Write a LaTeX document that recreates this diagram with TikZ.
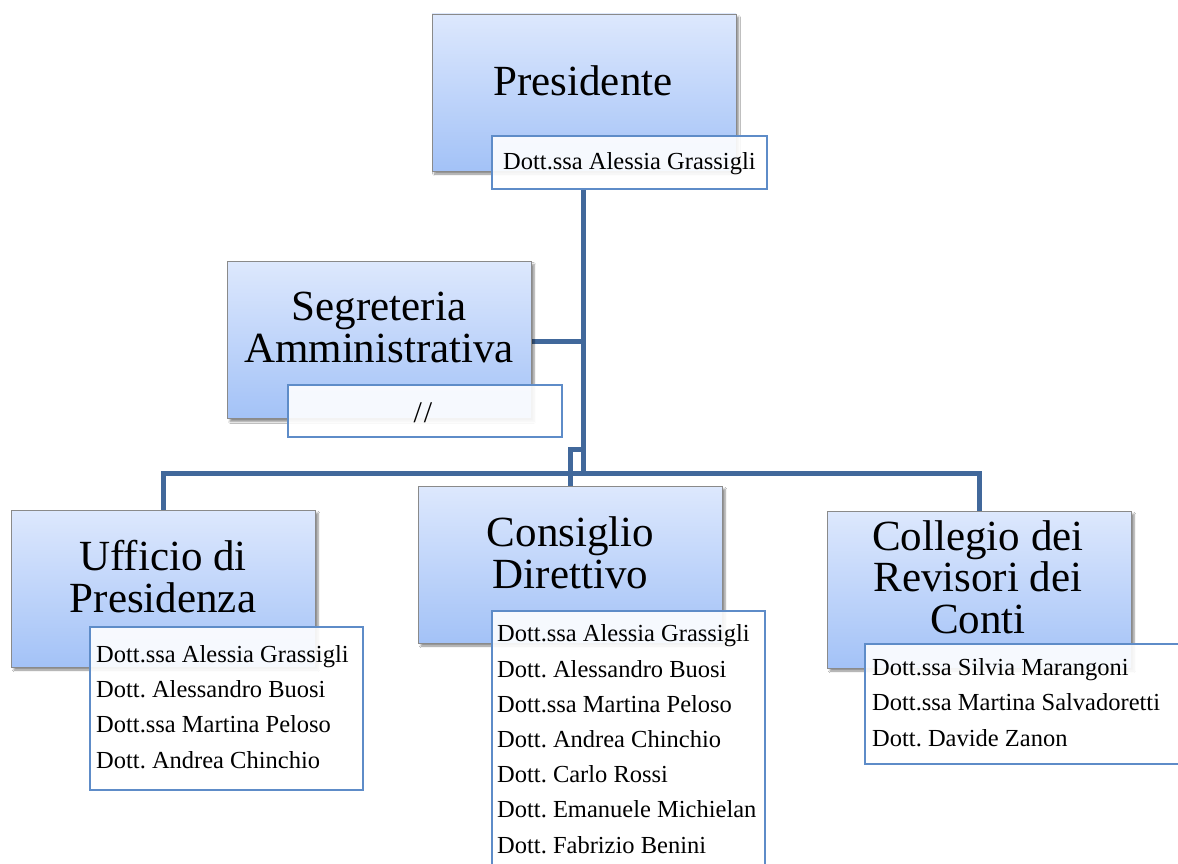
\documentclass[tikz,border=0pt]{standalone}
\usepackage{fontspec}
\setmainfont{Liberation Serif}
\frenchspacing
\usetikzlibrary{shadows.blur}
\definecolor{topc}{HTML}{DDE8FD}
\definecolor{botc}{HTML}{A3C2F7}
\definecolor{boxline}{HTML}{8A8A8A}
\definecolor{connc}{HTML}{41689B}
\definecolor{listline}{HTML}{5E8CC8}
\tikzset{
  titlebox/.style={rectangle, draw=boxline, line width=0.8pt, top color=topc, bottom color=botc,
    minimum width=304pt, minimum height=157pt, inner sep=0pt,
    blur shadow={shadow xshift=2.5pt, shadow yshift=-3pt, shadow blur steps=6, shadow opacity=45}},
  titletext/.style={anchor=base, align=center, inner sep=0pt, font=\fontsize{43}{41.5}\selectfont},
  listbox/.style={rectangle, draw=listline, line width=1.3pt, fill=white, fill opacity=0.9, inner sep=0pt},
  listtext/.style={anchor=base west, align=left, inner sep=0pt, font=\fontsize{24.5}{35.2}\selectfont},
  conn/.style={draw=connc, line width=5pt, line join=miter}
}
\begin{document}
\begin{tikzpicture}[x=1pt,y=-1pt]
\useasboundingbox (0,0) rectangle (1178,864);
\fill[white] (0,0) rectangle (1178,864);
\coordinate (bus) at (583,473);
\coordinate (jog) at (583,449);
% connectors first (drawn under boxes)
\draw[conn] (583,189) -- (bus);
\draw[conn] (163.5,510) -- (163.5,473) -- (979.5,473) -- (979.5,512);
\draw[conn] (532,341) -- (583,341);
\draw[conn] (jog) -- (570.5,449) -- (570.5,486);
% Presidente
\node[titlebox] (pres) at (584,92.5) {};
\node[titletext] (presT) at (583,96) {Presidente};
\node[listbox, minimum width=275pt, minimum height=53pt] (presL) at (629.5,162.5) {};
\node[listtext] (presN) at (503,170) {Dott.ssa Alessia Grassigli};
% Segreteria
\node[titlebox] (seg) at (379.5,340) {};
\node[titletext] (segT) at (379,362) {Segreteria\\Amministrativa};
\node[listbox, minimum width=274pt, minimum height=52pt] (segL) at (425,411) {};
\node[listtext, anchor=base, font=\fontsize{30}{36}\selectfont] (segN) at (423,422) {/\kern2pt/};
% Ufficio
\node[titlebox] (uff) at (163.5,588.5) {};
\node[titletext] (uffT) at (163,612) {Ufficio di\\Presidenza};
\node[listbox, minimum width=273pt, minimum height=163pt] (uffL) at (226.5,708.5) {};
\node[listtext] (uffN) at (96,768) {Dott.ssa Alessia Grassigli\\Dott. Alessandro Buosi\\Dott.ssa Martina Peloso\\Dott. Andrea Chinchio};
% Consiglio
\node[titlebox] (cons) at (570.5,564.5) {};
\node[titletext] (consT) at (570.5,588) {Consiglio\\Direttivo};
\node[listbox, minimum width=273pt, minimum height=270pt] (consL) at (628.5,746) {};
\node[listtext] (consN) at (497,853) {Dott.ssa Alessia Grassigli\\Dott. Alessandro Buosi\\Dott.ssa Martina Peloso\\Dott. Andrea Chinchio\\Dott. Carlo Rossi\\Dott. Emanuele Michielan\\Dott. Fabrizio Benini};
% Collegio
\node[titlebox] (coll) at (979.5,589.5) {};
\node[titletext] (collT) at (978,633) {Collegio dei\\Revisori dei\\Conti};
\node[listbox, minimum width=330pt, minimum height=120pt] (collL) at (1030,704) {};
\node[listtext] (collN) at (872,746) {Dott.ssa Silvia Marangoni\\Dott.ssa Martina Salvadoretti\\Dott. Davide Zanon};
\end{tikzpicture}
\end{document}
